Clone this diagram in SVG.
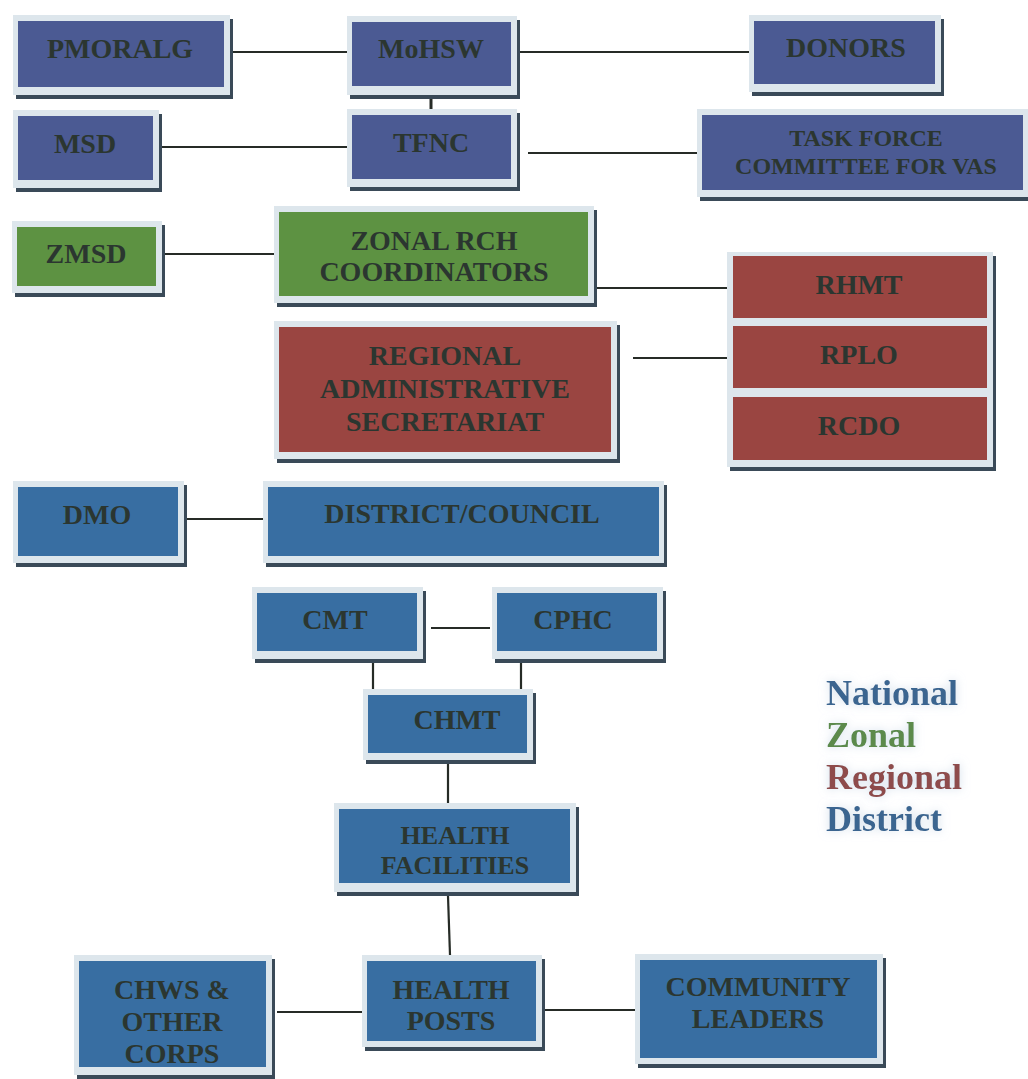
<svg xmlns="http://www.w3.org/2000/svg" width="1028" height="1079" viewBox="0 0 1028 1079">
<defs>
<style>
.sh{fill:#3a4a58}
.fr{fill:#dde6ec}
.nat{fill:#4b5a93}
.zon{fill:#5d9242}
.reg{fill:#9a4541}
.dis{fill:#386ea2}
.t{font-family:"Liberation Serif","Times New Roman",serif;font-weight:bold;font-size:28px;fill:#2b3630;text-anchor:middle}
.s{font-size:24px}
.m{font-size:26px}
.c line{stroke:#262b26;stroke-width:2.2}
.lg{font-family:"Liberation Serif","Times New Roman",serif;font-weight:bold;font-size:36px;filter:url(#glow)}
</style>
<filter id="glow" x="-20%" y="-30%" width="140%" height="160%">
<feGaussianBlur in="SourceAlpha" stdDeviation="5" result="b"/>
<feFlood flood-color="#b9cde0" flood-opacity="0.7"/>
<feComposite in2="b" operator="in" result="g"/>
<feMerge><feMergeNode in="g"/><feMergeNode in="SourceGraphic"/></feMerge>
</filter>
</defs>
<rect width="1028" height="1079" fill="#ffffff"/>

<g class="c" id="connectors">
<line x1="233" y1="52" x2="347" y2="52"/>
<line x1="520" y1="52" x2="749" y2="52"/>
<line x1="431" y1="97" x2="431" y2="109" style="stroke-width:3"/>
<line x1="162" y1="147" x2="347" y2="147"/>
<line x1="528" y1="153" x2="697" y2="153"/>
<line x1="165" y1="254" x2="274" y2="254"/>
<line x1="597" y1="288" x2="727" y2="288"/>
<line x1="633" y1="358" x2="727" y2="358"/>
<line x1="187" y1="519" x2="263" y2="519"/>
<line x1="431" y1="628" x2="490" y2="628"/>
<line x1="373" y1="663" x2="373" y2="689"/>
<line x1="521" y1="663" x2="521" y2="689"/>
<line x1="448" y1="764" x2="448" y2="803"/>
<line x1="448" y1="896" x2="450" y2="955"/>
<line x1="277" y1="1012" x2="362" y2="1012"/>
<line x1="545" y1="1010" x2="635" y2="1010"/>
</g>

<g id="pmoralg">
<rect class="sh" x="16" y="19" width="217" height="80"/>
<rect class="fr" x="13" y="15" width="217" height="80"/>
<rect class="nat" x="18" y="21" width="206" height="66"/>
<text class="t" x="120" y="58">PMORALG</text>
</g>
<g id="mohsw">
<rect class="sh" x="350" y="20" width="170" height="79"/>
<rect class="fr" x="347" y="16" width="170" height="79"/>
<rect class="nat" x="352" y="22" width="159" height="64"/>
<text class="t" x="431" y="58">MoHSW</text>
</g>
<g id="donors">
<rect class="sh" x="752" y="19" width="192" height="77"/>
<rect class="fr" x="749" y="15" width="192" height="77"/>
<rect class="nat" x="754" y="21" width="181" height="63"/>
<text class="t" x="846" y="57">DONORS</text>
</g>
<g id="msd">
<rect class="sh" x="16" y="114" width="146" height="78"/>
<rect class="fr" x="13" y="110" width="146" height="78"/>
<rect class="nat" x="18" y="116" width="135" height="64"/>
<text class="t" x="85" y="153">MSD</text>
</g>
<g id="tfnc">
<rect class="sh" x="350" y="113" width="170" height="78"/>
<rect class="fr" x="347" y="109" width="170" height="78"/>
<rect class="nat" x="352" y="115" width="159" height="64"/>
<text class="t" x="431" y="152">TFNC</text>
</g>
<g id="taskforce">
<rect class="sh" x="700" y="113" width="331" height="88"/>
<rect class="fr" x="697" y="109" width="331" height="88"/>
<rect class="nat" x="702" y="115" width="321" height="75"/>
<text class="t s" x="866" y="146">TASK FORCE</text>
<text class="t s" x="866" y="174">COMMITTEE FOR VAS</text>
</g>

<g id="zmsd">
<rect class="sh" x="15" y="225" width="150" height="72"/>
<rect class="fr" x="12" y="221" width="150" height="72"/>
<rect class="zon" x="17" y="227" width="139" height="59"/>
<text class="t" x="86" y="263">ZMSD</text>
</g>
<g id="zonal">
<rect class="sh" x="277" y="210" width="320" height="97"/>
<rect class="fr" x="274" y="206" width="320" height="97"/>
<rect class="zon" x="279" y="212" width="309" height="84"/>
<text class="t" x="434" y="250">ZONAL RCH</text>
<text class="t" x="434" y="281">COORDINATORS</text>
</g>
<g id="regadmin">
<rect class="sh" x="277" y="325" width="343" height="138"/>
<rect class="fr" x="274" y="321" width="343" height="138"/>
<rect class="reg" x="279" y="327" width="332" height="125"/>
<text class="t" x="445" y="365">REGIONAL</text>
<text class="t" x="445" y="398">ADMINISTRATIVE</text>
<text class="t" x="445" y="431">SECRETARIAT</text>
</g>
<g id="regional-group">
<rect class="sh" x="730" y="256" width="266" height="215"/>
<rect class="fr" x="727" y="252" width="266" height="215"/>
<g id="rhmt"><rect class="reg" x="733" y="256" width="254" height="62"/><text class="t" x="859" y="294">RHMT</text></g>
<g id="rplo"><rect class="reg" x="733" y="326" width="254" height="62"/><text class="t" x="859" y="364">RPLO</text></g>
<g id="rcdo"><rect class="reg" x="733" y="397" width="254" height="63"/><text class="t" x="859" y="435">RCDO</text></g>
</g>

<g id="dmo">
<rect class="sh" x="16" y="485" width="171" height="82"/>
<rect class="fr" x="13" y="481" width="171" height="82"/>
<rect class="dis" x="18" y="487" width="160" height="69"/>
<text class="t" x="97" y="524">DMO</text>
</g>
<g id="district">
<rect class="sh" x="266" y="485" width="401" height="82"/>
<rect class="fr" x="263" y="481" width="401" height="82"/>
<rect class="dis" x="268" y="487" width="391" height="69"/>
<text class="t" x="462" y="523">DISTRICT/COUNCIL</text>
</g>
<g id="cmt">
<rect class="sh" x="255" y="591" width="171" height="72"/>
<rect class="fr" x="252" y="587" width="171" height="72"/>
<rect class="dis" x="257" y="593" width="160" height="58"/>
<text class="t" x="335" y="629">CMT</text>
</g>
<g id="cphc">
<rect class="sh" x="495" y="591" width="171" height="72"/>
<rect class="fr" x="492" y="587" width="171" height="72"/>
<rect class="dis" x="497" y="593" width="160" height="58"/>
<text class="t" x="573" y="629">CPHC</text>
</g>
<g id="chmt">
<rect class="sh" x="366" y="693" width="170" height="71"/>
<rect class="fr" x="363" y="689" width="170" height="71"/>
<rect class="dis" x="368" y="695" width="159" height="58"/>
<text class="t" x="457" y="729">CHMT</text>
</g>
<g id="healthfacilities">
<rect class="sh" x="337" y="807" width="242" height="89"/>
<rect class="fr" x="334" y="803" width="242" height="89"/>
<rect class="dis" x="339" y="809" width="231" height="74"/>
<text class="t m" x="455" y="844">HEALTH</text>
<text class="t m" x="455" y="874">FACILITIES</text>
</g>
<g id="chws">
<rect class="sh" x="77" y="959" width="198" height="120"/>
<rect class="fr" x="74" y="955" width="198" height="120"/>
<rect class="dis" x="79" y="961" width="187" height="106"/>
<text class="t" x="172" y="999">CHWS &amp;</text>
<text class="t" x="172" y="1031">OTHER</text>
<text class="t" x="172" y="1063">CORPS</text>
</g>
<g id="healthposts">
<rect class="sh" x="365" y="959" width="180" height="92"/>
<rect class="fr" x="362" y="955" width="180" height="92"/>
<rect class="dis" x="367" y="961" width="169" height="80"/>
<text class="t" x="451" y="999">HEALTH</text>
<text class="t" x="451" y="1030">POSTS</text>
</g>
<g id="community">
<rect class="sh" x="638" y="958" width="248" height="110"/>
<rect class="fr" x="635" y="954" width="248" height="110"/>
<rect class="dis" x="640" y="960" width="237" height="98"/>
<text class="t" x="758" y="996">COMMUNITY</text>
<text class="t" x="758" y="1028">LEADERS</text>
</g>

<g id="legend">
<text class="lg" x="826" y="705" fill="#3a6590">National</text>
<text class="lg" x="826" y="747" fill="#5b8a4c">Zonal</text>
<text class="lg" x="826" y="789" fill="#8e4c4b">Regional</text>
<text class="lg" x="826" y="831" fill="#3a6590">District</text>
</g>
</svg>
